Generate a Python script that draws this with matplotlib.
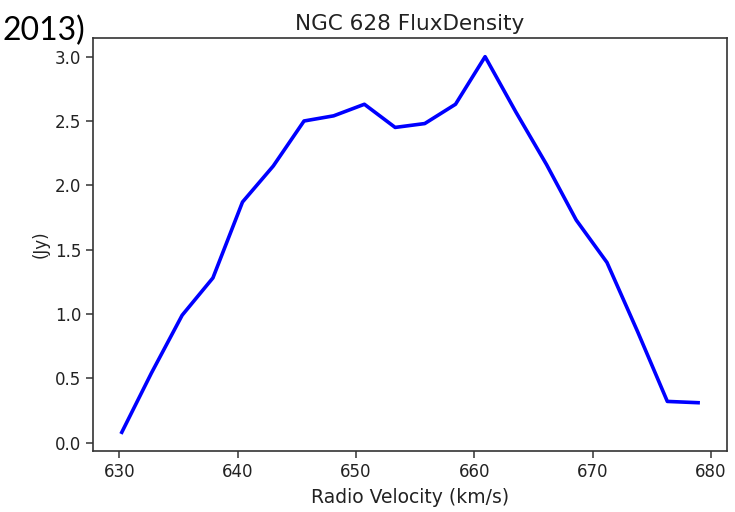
import matplotlib
matplotlib.use("Agg")
import matplotlib.pyplot as plt

# Radio velocity channels (km/s) and measured flux density (Jy)
velocity = [630.2, 632.7, 635.3, 637.9, 640.4, 643.0, 645.6, 648.1, 650.7, 653.3,
            655.8, 658.4, 660.9, 663.5, 666.1, 668.6, 671.2, 673.8, 676.3, 678.9]
flux = [0.08, 0.54, 0.99, 1.28, 1.87, 2.15, 2.50, 2.54, 2.63, 2.45,
        2.48, 2.63, 3.00, 2.57, 2.16, 1.73, 1.40, 0.86, 0.32, 0.31]

fig = plt.figure(figsize=(7.35, 5.12), dpi=100)
ax = fig.add_axes([0.1265, 0.119, 0.8625, 0.807])

ax.plot(velocity, flux, color="blue", linewidth=2.6)

ax.set_title("NGC 628 FluxDensity", fontsize=15.5, pad=6, color="#222222")
ax.set_xlabel("Radio Velocity (km/s)", fontsize=13.5, color="#222222", labelpad=5)
ax.set_ylabel("(Jy)", fontsize=12, color="#222222")
ax.tick_params(labelsize=12, length=5, width=1.1, color="#333333", labelcolor="#222222")
for sp in ax.spines.values():
    sp.set_linewidth(1.2)
    sp.set_color("#333333")

fig.text(0.003, 0.94, "2013)", fontsize=23, family="Lato", color="black",
         ha="left", va="center")

fig.savefig("out.png", dpi=100)
